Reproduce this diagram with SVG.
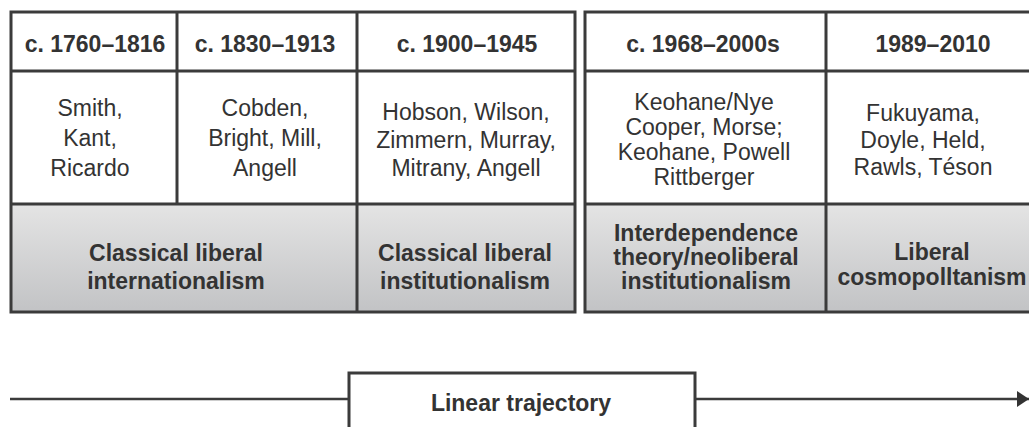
<svg xmlns="http://www.w3.org/2000/svg" width="1029" height="427" viewBox="0 0 1029 427">
<style>
.b{fill:none;stroke:#3b3b3b;stroke-width:3}
.l{fill:none;stroke:#3b3b3b;stroke-width:2.5}
.h{font-family:"Liberation Sans",Arial,sans-serif;font-size:23px;font-weight:bold;fill:#333;text-anchor:middle}
.t{font-family:"Liberation Sans",Arial,sans-serif;font-size:23px;fill:#333;text-anchor:middle}
.g{fill:url(#gr)}
</style>
<defs>
<linearGradient id="gr" x1="0" y1="0" x2="0" y2="1">
<stop offset="0" stop-color="#e4e4e4"/>
<stop offset="1" stop-color="#c2c3c5"/>
</linearGradient>
<marker id="ah" markerWidth="12" markerHeight="16" refX="12" refY="8" orient="auto" markerUnits="userSpaceOnUse">
<path d="M0,0 L12,8 L0,16 Z" fill="#333"/>
</marker>
</defs>
<rect x="0" y="0" width="1029" height="427" fill="#fff"/>

<g id="left-table">
<rect class="g" x="11" y="204" width="564" height="108"/>
<rect class="b" x="11" y="12" width="564" height="300"/>
<line class="b" x1="11" y1="71" x2="575" y2="71"/>
<line class="b" x1="11" y1="204" x2="575" y2="204"/>
<line class="b" x1="177" y1="12" x2="177" y2="204"/>
<line class="b" x1="357" y1="12" x2="357" y2="312"/>
</g>

<g id="right-table">
<rect class="g" x="585" y="204" width="450" height="108"/>
<rect class="b" x="585" y="12" width="450" height="300"/>
<line class="b" x1="585" y1="71" x2="1035" y2="71"/>
<line class="b" x1="585" y1="204" x2="1035" y2="204"/>
<line class="b" x1="826" y1="12" x2="826" y2="312"/>
</g>

<g id="period-1">
<text class="h" x="95" y="52">c. 1760–1816</text>
<text class="t" x="90" y="116">Smith,</text>
<text class="t" x="90" y="146">Kant,</text>
<text class="t" x="90" y="176">Ricardo</text>
</g>
<g id="period-2">
<text class="h" x="265" y="52">c. 1830–1913</text>
<text class="t" x="265" y="116">Cobden,</text>
<text class="t" x="265" y="146">Bright, Mill,</text>
<text class="t" x="265" y="176">Angell</text>
</g>
<g id="period-3">
<text class="h" x="467" y="52">c. 1900–1945</text>
<text class="t" x="466" y="120">Hobson, Wilson,</text>
<text class="t" x="466" y="148">Zimmern, Murray,</text>
<text class="t" x="466" y="176">Mitrany, Angell</text>
</g>
<g id="period-4">
<text class="h" x="703" y="52">c. 1968–2000s</text>
<text class="t" x="704" y="110">Keohane/Nye</text>
<text class="t" x="704" y="135">Cooper, Morse;</text>
<text class="t" x="704" y="160">Keohane, Powell</text>
<text class="t" x="704" y="185">Rittberger</text>
</g>
<g id="period-5">
<text class="h" x="933" y="52">1989–2010</text>
<text class="t" x="923" y="121">Fukuyama,</text>
<text class="t" x="923" y="148">Doyle, Held,</text>
<text class="t" x="923" y="175">Rawls, Téson</text>
</g>

<g id="theory-1">
<text class="h" x="176" y="261">Classical liberal</text>
<text class="h" x="176" y="289">internationalism</text>
</g>
<g id="theory-2">
<text class="h" x="465" y="261">Classical liberal</text>
<text class="h" x="465" y="289">institutionalism</text>
</g>
<g id="theory-3">
<text class="h" x="706" y="241">Interdependence</text>
<text class="h" x="706" y="265">theory/neoliberal</text>
<text class="h" x="706" y="289">institutionalism</text>
</g>
<g id="theory-4">
<text class="h" x="932" y="260">Liberal</text>
<text class="h" x="932" y="285">cosmopolltanism</text>
</g>

<g id="trajectory">
<rect class="b" x="349" y="373" width="346" height="70" fill="#fff"/>
<text class="h" x="521" y="411">Linear trajectory</text>
</g>

<g id="connectors">
<line class="l" x1="10" y1="399" x2="348" y2="399"/>
<line class="l" x1="696" y1="399" x2="1029" y2="399" marker-end="url(#ah)"/>
</g>
</svg>
